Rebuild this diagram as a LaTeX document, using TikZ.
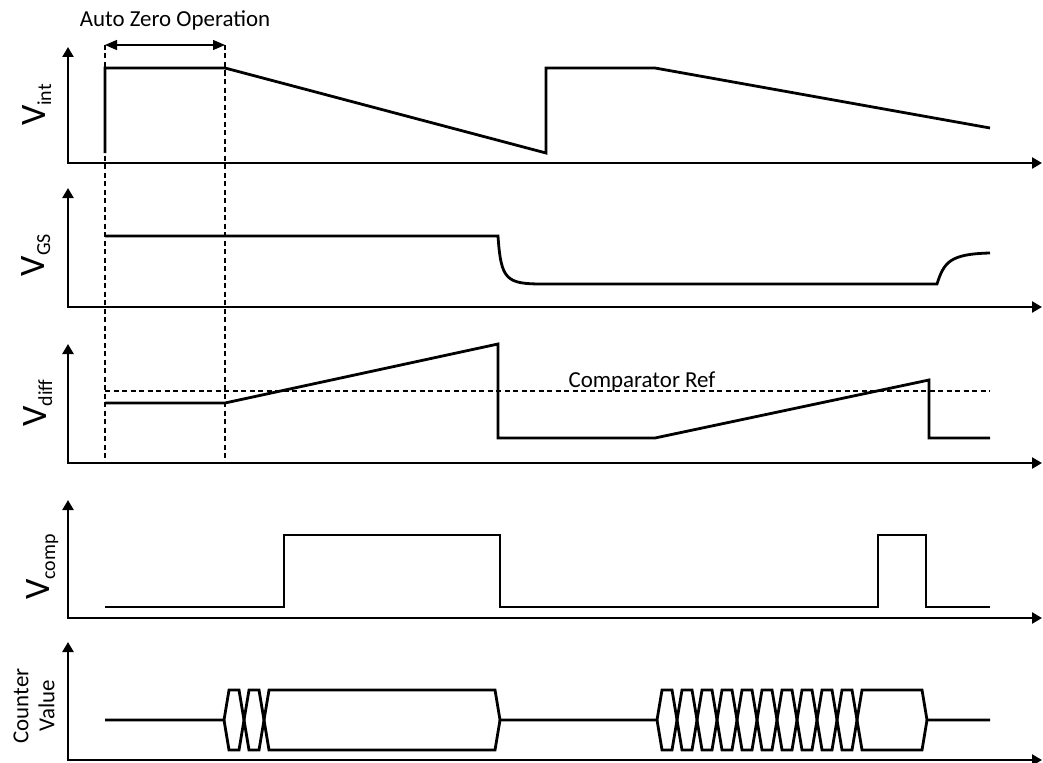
\documentclass[tikz,border=0pt]{standalone}
\usepackage{fontspec}
\setmainfont{Carlito}
\usetikzlibrary{arrows.meta}
\begin{document}
\begin{tikzpicture}[x=1bp,y=-1bp,
  wave/.style={line width=2.8bp, line join=miter, line cap=butt},
  axis/.style={line width=2.8bp, line join=miter,
    {Triangle[length=10bp,width=11bp]}-{Triangle[length=10bp,width=11bp]}},
  guide/.style={line width=1.2bp, dash pattern=on 5bp off 3.5bp},
  dimline/.style={line width=1.3bp,
    {Triangle[length=12bp,width=10bp]}-{Triangle[length=12bp,width=10bp]}},
  vlabel/.style={rotate=90, anchor=base, inner sep=0pt},
  txt/.style={inner sep=0pt, font=\fontsize{23}{26}\selectfont}]
\useasboundingbox (0,0) rectangle (1043,763);
\newcommand{\Vlab}[1]{\fontsize{36}{36}\selectfont V\raisebox{-6bp}{\fontsize{20}{20}\selectfont #1}}

% ---------- guides ----------
\coordinate (g1t) at (105,45);
\coordinate (g1b) at (105,463);
\coordinate (g2t) at (225,45);
\coordinate (g2b) at (225,463);
\draw[guide] (g1t) -- (g1b);
\draw[guide] (g2t) -- (g2b);
\draw[dimline] (g1t) -- (g2t);
\node[txt, anchor=base] (azo) at (175,27) {Auto Zero Operation};

% ---------- axes ----------
\draw[axis] (68,47) -- (68,163) -- (1042,163);
\draw[axis] (68,188) -- (68,307) -- (1042,307);
\draw[axis] (68,344) -- (68,463) -- (1042,463);
\draw[axis] (68,500) -- (68,618) -- (1042,618);
\draw[axis] (68,642) -- (68,760) -- (1042,760);

% ---------- labels ----------
\node[vlabel] (vint) at (45,105) {\Vlab{int}};
\node[vlabel] (vgs) at (44,255) {\Vlab{GS}};
\node[vlabel] (vdiff) at (46,403) {\Vlab{diff}};
\node[vlabel] (vcomp) at (49,567) {\Vlab{comp}};
\node[txt, rotate=90, align=center] (cnt) at (34,706) {Counter\\Value};

% ---------- V_int ----------
\draw[wave] (105,153) -- (105,68) -- (225,68) -- (546,153) -- (546,68) -- (655,68) -- (990,128);

% ---------- V_GS ----------
\draw[wave] (105,236) -- (498,236) .. controls (501,280) and (506,284) .. (543,284)
  -- (937,284) .. controls (944,262) and (950,254) .. (990,253);

% ---------- V_diff ----------
\coordinate (refL) at (105,391);
\coordinate (refR) at (990,391);
\draw[guide] (refL) -- (refR);
\node[txt, anchor=base] (cref) at (642,387) {Comparator Ref};
\draw[wave] (105,403) -- (225,403) -- (498,344) -- (498,438) -- (655,438) -- (929,380) -- (929,438) -- (990,438);

% ---------- V_comp ----------
\draw[wave] (105,607) -- (284,607) -- (284,535) -- (500,535) -- (500,607) -- (878,607) -- (878,535) -- (926,535) -- (926,607) -- (990,607);

% ---------- Counter value ----------
\draw[wave] (105,720) -- (224,720) -- (229,690) -- (239,690) -- (249,750) -- (259,750) -- (269,690) -- (495,690) -- (500,720)
  -- (657,720) -- (662,690) -- (672,690) -- (682,750) -- (692,750) -- (702,690) -- (712,690) -- (722,750) -- (732,750)
  -- (742,690) -- (752,690) -- (762,750) -- (772,750) -- (782,690) -- (792,690) -- (802,750) -- (812,750)
  -- (822,690) -- (832,690) -- (842,750) -- (852,750) -- (862,690) -- (922,690) -- (927,720) -- (990,720);
\draw[wave] (224,720) -- (229,750) -- (239,750) -- (249,690) -- (259,690) -- (269,750) -- (495,750) -- (500,720);
\draw[wave] (657,720) -- (662,750) -- (672,750) -- (682,690) -- (692,690) -- (702,750) -- (712,750) -- (722,690) -- (732,690)
  -- (742,750) -- (752,750) -- (762,690) -- (772,690) -- (782,750) -- (792,750) -- (802,690) -- (812,690)
  -- (822,750) -- (832,750) -- (842,690) -- (852,690) -- (862,750) -- (922,750) -- (927,720);
\end{tikzpicture}
\end{document}
